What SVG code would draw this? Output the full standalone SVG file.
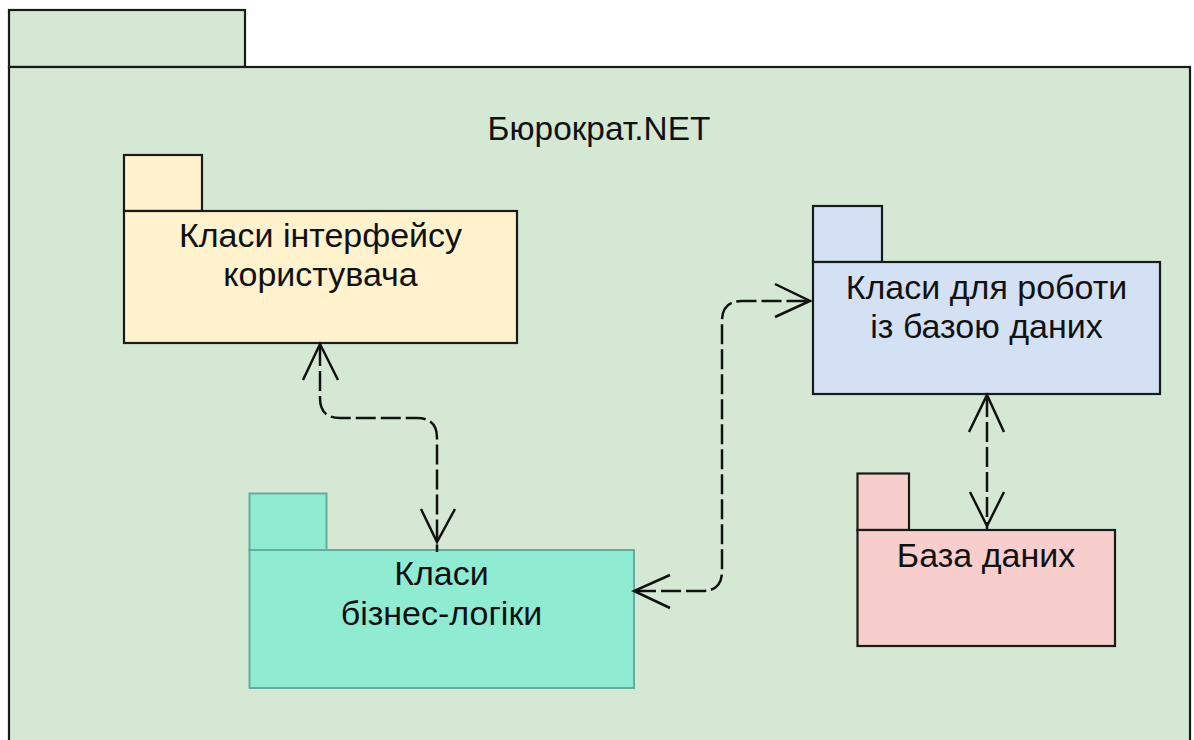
<svg xmlns="http://www.w3.org/2000/svg" width="1194" height="740" viewBox="0 0 1194 740">
  <style>
    .pkg { stroke: #1a1a1a; stroke-width: 2.2; }
    .lbl { font-family: "Liberation Sans", Arial, sans-serif; font-size: 34px; fill: #111111; text-anchor: middle; }
    .title { font-family: "Liberation Sans", Arial, sans-serif; font-size: 33.4px; fill: #111111; text-anchor: middle; }
    .dep { fill: none; stroke: #111111; stroke-width: 2.5; stroke-dasharray: 20 5; }
    .head { fill: none; stroke: #111111; stroke-width: 2.5; stroke-linejoin: miter; }
  </style>
  <rect width="1194" height="740" fill="#ffffff"/>

  <!-- outer system package -->
  <g id="system">
    <rect class="pkg" x="9" y="10" width="236" height="57" fill="#d5e8d4"/>
    <rect class="pkg" x="9" y="67" width="1181" height="700" fill="#d5e8d4"/>
    <text class="title" x="599" y="140">Бюрократ.NET</text>
  </g>

  <!-- user interface classes -->
  <g id="ui">
    <rect class="pkg" x="124" y="155" width="78" height="56" fill="#fff2cc"/>
    <rect class="pkg" x="124" y="211" width="393" height="132" fill="#fff2cc"/>
    <text class="lbl" x="320.5" y="247">Класи інтерфейсу</text>
    <text class="lbl" x="320.5" y="286">користувача</text>
  </g>

  <!-- business logic classes -->
  <g id="logic">
    <rect x="249.5" y="493.5" width="77" height="56.5" fill="#90ebd3" stroke="#67ab9f" stroke-width="2"/>
    <rect x="249.5" y="550" width="384.5" height="138" fill="#90ebd3" stroke="#67ab9f" stroke-width="2"/>
    <text class="lbl" x="441.5" y="585">Класи</text>
    <text class="lbl" x="441.5" y="625">бізнес-логіки</text>
  </g>

  <!-- database access classes -->
  <g id="dbclasses">
    <rect class="pkg" x="813" y="206" width="69" height="56" fill="#d4e1f5"/>
    <rect class="pkg" x="813" y="262" width="347" height="132" fill="#d4e1f5"/>
    <text class="lbl" x="986.5" y="299">Класи для роботи</text>
    <text class="lbl" x="986.5" y="338">із базою даних</text>
  </g>

  <!-- database -->
  <g id="database">
    <rect class="pkg" x="857.5" y="473.5" width="51.5" height="56.5" fill="#f8cecc"/>
    <rect class="pkg" x="857.5" y="530" width="257.5" height="116" fill="#f8cecc"/>
    <text class="lbl" x="986" y="567">База даних</text>
  </g>

  <!-- dependencies -->
  <g id="connectors">
    <path class="dep" d="M320,346 V398 Q320,418 340,418 H417 Q437,418 437,438 V552"/>
    <path class="head" d="M303,380 L320,344 L338,380"/>
    <path class="head" d="M421,509 L437,542 L455,509"/>

    <path class="dep" d="M636,591 H702 Q722,591 722,571 V321 Q722,301 742,301 H810"/>
    <path class="head" d="M670,575 L634,591 L670,608"/>
    <path class="head" d="M775,284 L810,301 L775,317"/>

    <path class="dep" d="M987,397 V530"/>
    <path class="head" d="M969,432 L987,395 L1004,432"/>
    <path class="head" d="M970,492 L987,526 L1004,492"/>
  </g>
</svg>
